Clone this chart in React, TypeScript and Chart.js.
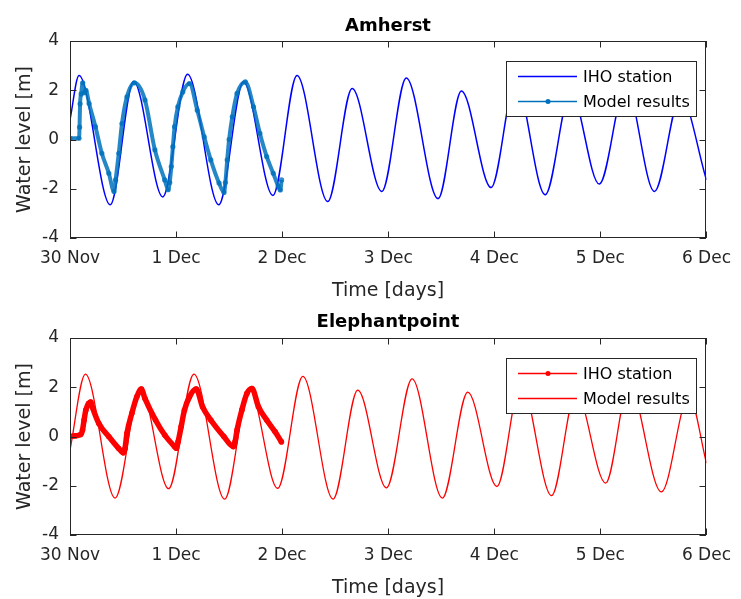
import React, { useEffect, useRef } from "react";
import { Chart, registerables } from "chart.js";

Chart.register(...registerables);

const FONT = "'DejaVu Sans', 'Liberation Sans', Arial, sans-serif";

const xTickLabels = ["30 Nov", "1 Dec", "2 Dec", "3 Dec", "4 Dec", "5 Dec", "6 Dec"];
const yTickValues = [-4, -2, 0, 2, 4];

// Amherst – IHO station (days since 30 Nov, water level m)
const amherstIhoT = [0, 0.085, 0.38, 0.6, 0.875, 1.108, 1.403, 1.635, 1.913, 2.14, 2.43, 2.66, 2.94, 3.17, 3.47, 3.69, 3.97, 4.2, 4.48, 4.72, 4.99, 5.24, 5.51, 5.755, 6.0];
const amherstIhoV = [0.8, 2.6, -2.65, 2.36, -2.33, 2.65, -2.65, 2.33, -2.27, 2.6, -2.52, 2.07, -2.11, 2.5, -2.4, 1.97, -1.95, 2.35, -2.24, 1.95, -1.81, 2.2, -2.11, 1.75, -1.64];

// Amherst – Model results
const amherstModelT = [0, 0.085, 0.09, 0.095, 0.105, 0.12, 0.135, 0.15, 0.18, 0.24, 0.3, 0.366, 0.415, 0.43, 0.46, 0.49, 0.537, 0.607, 0.707, 0.8, 0.893, 0.925, 0.94, 0.955, 0.97, 0.986, 1.017, 1.063, 1.126, 1.2, 1.265, 1.327, 1.405, 1.452, 1.465, 1.482, 1.5, 1.53, 1.575, 1.653, 1.73, 1.79, 1.854, 1.916, 1.963, 1.983, 1.995];
const amherstModelV = [0.05, 0.05, 0.5, 1.45, 1.85, 2.3, 1.9, 2.0, 1.46, 0.52, -0.56, -1.37, -2.11, -1.64, -0.56, 0.65, 1.73, 2.3, 1.6, -0.42, -1.64, -2.04, -1.75, -1.1, -0.29, 0.52, 1.33, 1.93, 2.27, 1.19, 0.11, -0.83, -1.77, -2.15, -1.75, -0.83, 0.0, 0.92, 1.87, 2.34, 1.33, 0.25, -0.69, -1.37, -1.9, -2.05, -1.64];

// Elephantpoint – IHO station
const elephIhoT = [0, 0.05, 0.1, 0.118, 0.133, 0.149, 0.175, 0.195, 0.21, 0.272, 0.365, 0.458, 0.503, 0.518, 0.537, 0.583, 0.63, 0.672, 0.707, 0.806, 0.893, 0.986, 1.003, 1.02, 1.048, 1.079, 1.126, 1.19, 1.25, 1.327, 1.45, 1.54, 1.557, 1.575, 1.62, 1.668, 1.715, 1.777, 1.854, 1.932, 1.993];
const elephIhoV = [0.0, 0.03, 0.08, 0.26, 0.67, 1.07, 1.34, 1.4, 1.2, 0.53, 0.0, -0.48, -0.66, -0.5, 0.13, 0.94, 1.61, 1.93, 1.54, 0.67, 0.06, -0.41, -0.48, -0.2, 0.4, 1.07, 1.61, 1.93, 1.2, 0.67, 0.0, -0.41, -0.2, 0.26, 1.07, 1.75, 1.95, 1.2, 0.67, 0.2, -0.22];

// Elephantpoint – Model results
const elephModelT = [0, 0.145, 0.425, 0.665, 0.93, 1.168, 1.458, 1.69, 1.958, 2.195, 2.48, 2.713, 2.983, 3.225, 3.51, 3.75, 4.025, 4.25, 4.54, 4.77, 5.05, 5.27, 5.575, 5.835, 6.0];
const elephModelV = [-0.55, 2.53, -2.5, 1.95, -2.12, 2.53, -2.54, 1.95, -2.11, 2.44, -2.54, 1.88, -2.09, 2.34, -2.5, 1.8, -2.03, 2.2, -2.4, 1.8, -1.89, 2.1, -2.25, 1.65, -1.08];

const BLUE = "#0000ff";
const TEAL = "#0072bd";
const RED = "#ff0000";
const AXIS = "#262626";

function pts(t: number[], v: number[]) {
  return t.map((x, i) => ({ x, y: v[i] }));
}

type LegendItem = { label: string; color: string; width: number; marker: boolean };

const framePlugin = {
  id: "frame",
  afterDraw(chart: any, _args: any, opts: any) {
    const { ctx, chartArea: a, scales } = chart;
    const L = Math.round(a.left), T = Math.round(a.top), R = Math.round(a.right), B = Math.round(a.bottom);
    ctx.save();
    ctx.strokeStyle = AXIS;
    ctx.lineWidth = 1;
    ctx.strokeRect(L + 0.5, T + 0.5, R - L - 1, B - T - 1);
    const tl = 6.5;
    ctx.beginPath();
    for (let i = 0; i < xTickLabels.length; i++) {
      const px = Math.round(scales.x.getPixelForValue(i)) + 0.5;
      ctx.moveTo(px, B); ctx.lineTo(px, B - tl);
      ctx.moveTo(px, T); ctx.lineTo(px, T + tl);
    }
    for (const v of yTickValues) {
      const py = Math.round(scales.y.getPixelForValue(v)) + 0.5;
      ctx.moveTo(L, py); ctx.lineTo(L + tl, py);
      ctx.moveTo(R, py); ctx.lineTo(R - tl, py);
    }
    ctx.stroke();

    // title
    ctx.fillStyle = "#000";
    ctx.font = `bold 18px ${FONT}`;
    ctx.textAlign = "center";
    ctx.textBaseline = "alphabetic";
    ctx.fillText(opts.title, (L + R) / 2, opts.titleY);

    // axis titles
    ctx.fillStyle = AXIS;
    ctx.font = `19px ${FONT}`;
    ctx.fillText("Time [days]", (L + R) / 2, 296);
    ctx.save();
    ctx.translate(25, (T + B) / 2);
    ctx.rotate(-Math.PI / 2);
    ctx.textBaseline = "middle";
    ctx.fillText("Water level [m]", 0, 0);
    ctx.restore();

    // legend
    const bx = 506, by = 61, bw = 190, bh = 55;
    ctx.fillStyle = "#fff";
    ctx.fillRect(bx, by, bw, bh);
    ctx.strokeStyle = AXIS;
    ctx.lineWidth = 1;
    ctx.strokeRect(bx + 0.5, by + 0.5, bw, bh);
    const items: LegendItem[] = opts.legend;
    items.forEach((it, i) => {
      const y = 76.5 + i * 25;
      ctx.strokeStyle = it.color;
      ctx.lineWidth = it.width;
      ctx.beginPath();
      ctx.moveTo(518, y); ctx.lineTo(577, y);
      ctx.stroke();
      if (it.marker) {
        ctx.fillStyle = it.color;
        ctx.beginPath();
        ctx.arc(548, y, 2.5, 0, Math.PI * 2);
        ctx.fill();
      }
      ctx.fillStyle = "#000";
      ctx.font = `16px ${FONT}`;
      ctx.textAlign = "left";
      ctx.textBaseline = "middle";
      ctx.fillText(it.label, 583, y + 1);
    });
    ctx.restore();
  },
};

function makeConfig(datasets: any[], frame: any) {
  return {
    type: "line",
    data: { datasets },
    options: {
      animation: false,
      responsive: false,
      events: [],
      layout: { padding: { left: 0, right: 26, top: 41, bottom: 0 } },
      plugins: {
        legend: { display: false },
        tooltip: { enabled: false },
        title: { display: false },
        frame,
      },
      scales: {
        x: {
          type: "linear",
          min: 0,
          max: 6,
          grid: { display: false, drawTicks: false },
          border: { display: false },
          ticks: {
            stepSize: 1,
            autoSkip: false,
            maxRotation: 0,
            padding: 10,
            color: AXIS,
            font: { size: 17, family: FONT },
            callback: (v: number) => xTickLabels[Math.round(v)],
          },
          afterFit: (s: any) => { s.height = 64; },
        },
        y: {
          type: "linear",
          min: -4,
          max: 4,
          grid: { display: false, drawTicks: false },
          border: { display: false },
          ticks: {
            stepSize: 2,
            padding: 11,
            color: AXIS,
            font: { size: 17, family: FONT },
            callback: (v: number) => String(v),
          },
          afterFit: (s: any) => { s.width = 70; },
        },
      },
    },
    plugins: [framePlugin],
  } as any;
}

function ChartCanvas({ config, top }: { config: any; top: number }) {
  const ref = useRef<HTMLCanvasElement | null>(null);
  useEffect(() => {
    if (!ref.current) return;
    const ch = new Chart(ref.current, config);
    return () => ch.destroy();
  }, [config]);
  return (
    <canvas
      ref={ref}
      width={741}
      height={302}
      style={{ position: "absolute", left: 0, top, width: 741, height: 302, display: "block" }}
    />
  );
}

const topConfig = makeConfig(
  [
    {
      label: "IHO station",
      data: pts(amherstIhoT, amherstIhoV),
      borderColor: BLUE,
      borderWidth: 1.5,
      pointRadius: 0,
      cubicInterpolationMode: "monotone",
      order: 1,
    },
    {
      label: "Model results",
      data: pts(amherstModelT, amherstModelV),
      borderColor: "rgba(0,114,189,0.85)",
      backgroundColor: TEAL,
      borderWidth: 4,
      pointRadius: 2.6,
      pointBorderWidth: 0,
      pointBackgroundColor: "rgba(0,114,189,0.8)",
      cubicInterpolationMode: "monotone",
      order: 0,
    },
  ],
  {
    title: "Amherst",
    titleY: 31,
    legend: [
      { label: "IHO station", color: BLUE, width: 1.5, marker: false },
      { label: "Model results", color: TEAL, width: 1.5, marker: true },
    ],
  }
);

const bottomConfig = makeConfig(
  [
    {
      label: "IHO station",
      data: pts(elephIhoT, elephIhoV),
      borderColor: RED,
      backgroundColor: RED,
      borderWidth: 5.5,
      pointRadius: 2.8,
      pointBorderWidth: 0,
      pointBackgroundColor: RED,
      cubicInterpolationMode: "monotone",
      order: 0,
    },
    {
      label: "Model results",
      data: pts(elephModelT, elephModelV),
      borderColor: RED,
      borderWidth: 1.3,
      pointRadius: 0,
      cubicInterpolationMode: "monotone",
      order: 1,
    },
  ],
  {
    title: "Elephantpoint",
    titleY: 30,
    legend: [
      { label: "IHO station", color: RED, width: 1.5, marker: true },
      { label: "Model results", color: RED, width: 1.5, marker: false },
    ],
  }
);

export default function App() {
  return (
    <div style={{ position: "absolute", left: 0, top: 0, width: 741, height: 599, background: "#fff", overflow: "hidden" }}>
      <ChartCanvas config={topConfig} top={0} />
      <ChartCanvas config={bottomConfig} top={297} />
    </div>
  );
}
